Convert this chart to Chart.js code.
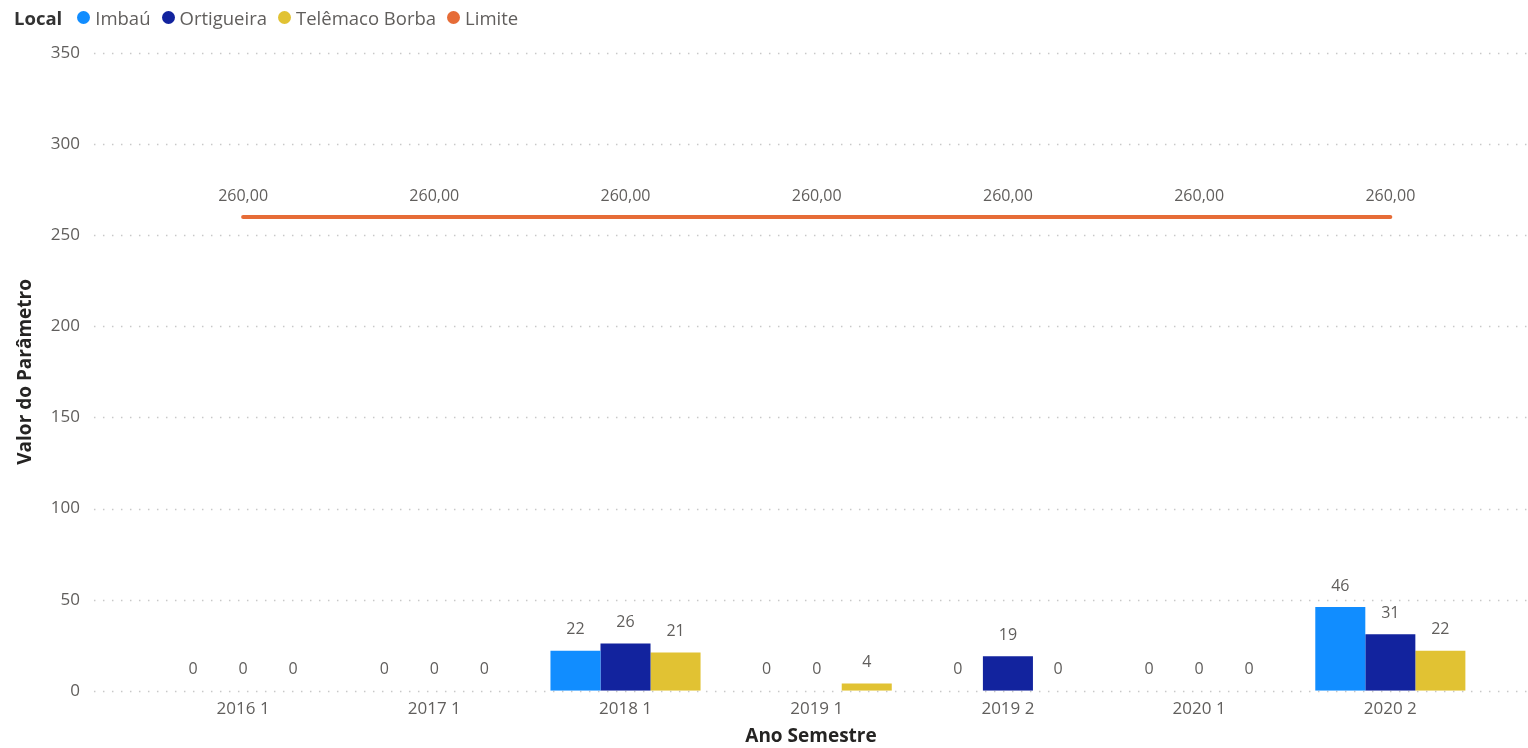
<!DOCTYPE html>
<html lang="pt">
<head>
<meta charset="utf-8">
<script src="https://cdn.jsdelivr.net/npm/chart.js@4.4.1/dist/chart.umd.min.js"></script>
<style>
  html, body { margin: 0; padding: 0; background: #fff; }
  #wrap { position: relative; width: 1528px; height: 748px; }
  #legend {
    position: absolute; left: 14px; top: 5px; display: flex; align-items: center;
    font-family: "Open Sans", "Noto Sans", sans-serif; font-size: 18.5px; color: #605E5C;
    white-space: nowrap;
  }
  #legend b { color: #333; font-weight: 700; margin-right: 15px; }
  #legend .item { display: flex; align-items: center; margin-right: 11px; }
  #legend .dot { width: 13px; height: 13px; border-radius: 50%; margin-right: 5px; }
</style>
</head>
<body>
<div id="wrap">
  <canvas id="chart" width="1528" height="748"></canvas>
  <div id="legend"><b>Local</b></div>
</div>
<script>
const categories = ['2016 1', '2017 1', '2018 1', '2019 1', '2019 2', '2020 1', '2020 2'];
const imbau      = [0, 0, 22, 0, 0, 0, 46];
const ortigueira = [0, 0, 26, 0, 19, 0, 31];
const telemaco   = [0, 0, 21, 4, 0, 0, 22];
const limite     = [260, 260, 260, 260, 260, 260, 260];
const yTicks     = [0, 50, 100, 150, 200, 250, 300, 350];

const FONT = '"Open Sans", "Noto Sans", sans-serif';
const colors = { imbau: '#118DFF', ortigueira: '#12239E', telemaco: '#E1C233', limite: '#E66C37' };

const toXY = arr => arr.map((v, i) => ({ x: i, y: v }));

// legend row
const legendEl = document.getElementById('legend');
[['Imbaú', colors.imbau], ['Ortigueira', colors.ortigueira], ['Telêmaco Borba', colors.telemaco], ['Limite', colors.limite]]
  .forEach(([name, c]) => {
    const it = document.createElement('span');
    it.className = 'item';
    it.innerHTML = '<span class="dot" style="background:' + c + '"></span>' + name;
    legendEl.appendChild(it);
  });

// dotted horizontal grid across the plot area
const dottedGrid = {
  id: 'dottedGrid',
  beforeDatasetsDraw(chart) {
    const { ctx, chartArea, scales } = chart;
    ctx.save();
    ctx.strokeStyle = '#C8C8C8';
    ctx.lineWidth = 1.5;
    ctx.setLineDash([1.5, 7.5]);
    yTicks.forEach(t => {
      const y = Math.round(scales.y.getPixelForValue(t)) + 0.5;
      ctx.beginPath();
      ctx.moveTo(chartArea.left, y);
      ctx.lineTo(chartArea.right, y);
      ctx.stroke();
    });
    ctx.restore();
  }
};

// value labels above bars and the limit line
const valueLabels = {
  id: 'valueLabels',
  afterDatasetsDraw(chart) {
    const { ctx } = chart;
    ctx.save();
    ctx.font = '16px ' + FONT;
    ctx.fillStyle = '#605E5C';
    ctx.textAlign = 'center';
    ctx.textBaseline = 'middle';
    chart.data.datasets.forEach((ds, di) => {
      const meta = chart.getDatasetMeta(di);
      meta.data.forEach((el, i) => {
        const v = ds.data[i].y;
        if (ds.type === 'line') {
          ctx.fillText(v.toFixed(2).replace('.', ','), el.x, el.y - 21);
        } else {
          ctx.fillText(String(v), el.x, el.y - 21);
        }
      });
    });
    ctx.restore();
  }
};

new Chart(document.getElementById('chart'), {
  data: {
    datasets: [
      { type: 'line', label: 'Limite', data: toXY(limite), borderColor: colors.limite, borderWidth: 4,
        borderCapStyle: 'round', pointRadius: 0, order: 0 },
      { type: 'bar', label: 'Imbaú', data: toXY(imbau), backgroundColor: colors.imbau, order: 1 },
      { type: 'bar', label: 'Ortigueira', data: toXY(ortigueira), backgroundColor: colors.ortigueira, order: 1 },
      { type: 'bar', label: 'Telêmaco Borba', data: toXY(telemaco), backgroundColor: colors.telemaco, order: 1 }
    ]
  },
  options: {
    responsive: false,
    animation: false,
    datasets: { bar: { categoryPercentage: 0.785, barPercentage: 1 } },
    layout: { padding: { top: 53, right: 0, bottom: 0, left: 14 } },
    plugins: { legend: { display: false }, tooltip: { enabled: false } },
    scales: {
      x: {
        type: 'linear', min: -0.78, max: 6.72, offset: false,
        grid: { display: false }, border: { display: false },
        ticks: {
          stepSize: 1, includeBounds: false, autoSkip: false, maxRotation: 0,
          color: '#605E5C', font: { family: FONT, size: 17 }, padding: 0,
          callback: v => Number.isInteger(v) ? categories[v] : ''
        },
        title: { display: true, text: 'Ano Semestre', color: '#252423',
                 font: { family: FONT, size: 19, weight: 'bold' }, padding: { top: 6, bottom: 0 } }
      },
      y: {
        min: 0, max: 350,
        grid: { display: false, drawTicks: false }, border: { display: false },
        ticks: { stepSize: 50, color: '#605E5C', font: { family: FONT, size: 17 }, padding: 14 },
        title: { display: true, text: 'Valor do Parâmetro', color: '#252423',
                 font: { family: FONT, size: 19, weight: 'bold' }, padding: { top: 0, bottom: 0 } }
      }
    }
  },
  plugins: [dottedGrid, valueLabels]
});
</script>
</body>
</html>
